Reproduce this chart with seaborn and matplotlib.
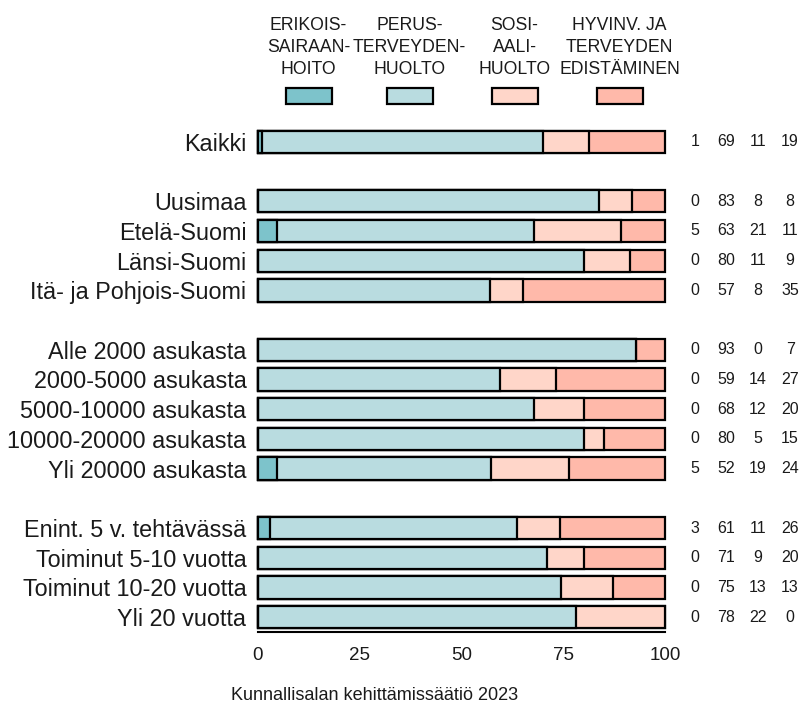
import matplotlib
matplotlib.use("Agg")
import matplotlib.pyplot as plt
from matplotlib.patches import Rectangle
import seaborn as sns
import pandas as pd
import numpy as np

# ---- data ----
categories = ["Kaikki", "Uusimaa", "Etelä-Suomi", "Länsi-Suomi", "Itä- ja Pohjois-Suomi",
              "Alle 2000 asukasta", "2000-5000 asukasta", "5000-10000 asukasta",
              "10000-20000 asukasta", "Yli 20000 asukasta",
              "Enint. 5 v. tehtävässä", "Toiminut 5-10 vuotta", "Toiminut 10-20 vuotta",
              "Yli 20 vuotta"]
# groups separated by blank rows
groups = [1, 4, 5, 4]

erikois = [1.1, 0.0, 4.7, 0.0, 0.0, 0.0, 0.0, 0.0, 0.0, 4.7, 3.1, 0.0, 0.0, 0.0]
perus   = [68.9, 83.9, 63.2, 80.2, 57.1, 93.0, 59.4, 67.9, 80.2, 52.5, 60.5, 71.0, 74.4, 78.1]
sosi    = [11.3, 8.0, 21.4, 11.2, 8.1, 0.0, 13.9, 12.3, 4.8, 19.3, 10.6, 9.2, 12.8, 21.9]
hyvinv  = [18.7, 8.1, 10.7, 8.6, 34.8, 7.0, 26.7, 19.8, 15.0, 23.5, 25.8, 19.8, 12.8, 0.0]

lab_erikois = [1, 0, 5, 0, 0, 0, 0, 0, 0, 5, 3, 0, 0, 0]
lab_perus   = [69, 83, 63, 80, 57, 93, 59, 68, 80, 52, 61, 71, 75, 78]
lab_sosi    = [11, 8, 21, 11, 8, 0, 14, 12, 5, 19, 11, 9, 13, 22]
lab_hyvinv  = [19, 8, 11, 9, 35, 7, 27, 20, 15, 24, 26, 20, 13, 0]

series_names = ["ERIKOIS-\nSAIRAAN-\nHOITO", "PERUS-\nTERVEYDEN-\nHUOLTO",
                "SOSI-\nAALI-\nHUOLTO", "HYVINV. JA\nTERVEYDEN\nEDISTÄMINEN"]
colors = ["#7DC3CB", "#B9DCE0", "#FFD6C9", "#FFB9AA"]
xticks = [0, 25, 50, 75, 100]
caption = "Kunnallisalan kehittämissäätiö 2023"

# ---- style ----
sns.set_style("white")
plt.rcParams["font.family"] = ["Liberation Sans", "DejaVu Sans"]
TXT = "#1a1a1a"

W, H = 808, 704
fig = plt.figure(figsize=(W / 100, H / 100), dpi=100)
ax_left, ax_right, ax_top, ax_bot = 257.5, 665.0, 127.0, 632.0
ax = fig.add_axes([ax_left / W, (H - ax_bot) / H, (ax_right - ax_left) / W, (ax_bot - ax_top) / H])

# order with blank spacer slots
order = []
idx = 0
for gi, g in enumerate(groups):
    if gi > 0:
        order.append(" " * gi)
    order.extend(categories[idx:idx + g])
    idx += g

df = pd.DataFrame({"cat": categories, "e": erikois, "p": perus, "s": sosi, "h": hyvinv})
cum = [df[["e", "p", "s", "h"]].sum(axis=1),
       df[["e", "p", "s"]].sum(axis=1),
       df[["e", "p"]].sum(axis=1),
       df["e"]]
draw_colors = [colors[3], colors[2], colors[1], colors[0]]
for vals, col in zip(cum, draw_colors):
    sns.barplot(x=vals, y=df["cat"], order=order, color=col, orient="h",
                width=0.75, edgecolor="black", linewidth=1.6, saturation=1,
                ax=ax)

for p in ax.patches:
    p.set_clip_on(False)

ax.set_xlim(0, 100)
ax.set_ylim(len(order) - 0.5, -0.5)
ax.set_xlabel("")
ax.set_ylabel("")
ax.set_xticks(xticks)
ax.set_xticklabels([str(t) for t in xticks], fontsize=13.5, color=TXT)
ax.tick_params(axis="x", length=8, width=1.5, direction="out", pad=3, color="black")
ax.tick_params(axis="y", length=0, pad=8, labelsize=16.8, labelcolor=TXT)
for s in ["top", "right", "left"]:
    ax.spines[s].set_visible(False)
ax.spines["bottom"].set_bounds(0, 100)
ax.spines["bottom"].set_linewidth(1.5)
ax.spines["bottom"].set_color("black")

# right-hand value columns
col_x = [107.4, 115.0, 122.8, 130.7]
pos = {c: order.index(c) for c in categories}
for i, c in enumerate(categories):
    for x, v in zip(col_x, [lab_erikois[i], lab_perus[i], lab_sosi[i], lab_hyvinv[i]]):
        ax.text(x, pos[c], str(v), ha="center", va="center", fontsize=11.5,
                color=TXT, clip_on=False)

# legend: labels above boxes
leg_cx = [308.5, 409.5, 514.5, 619.5]
line_y = [26, 47.5, 69.5]
for cx, name, col in zip(leg_cx, series_names, colors):
    for ly, line in zip(line_y, name.split("\n")):
        fig.text(cx / W, 1 - ly / H, line, ha="center", va="center", fontsize=12.7,
                 color=TXT)
    fig.add_artist(Rectangle(((cx - 23) / W, 1 - 104 / H), 46 / W, 16 / H,
                             transform=fig.transFigure, facecolor=col,
                             edgecolor="black", linewidth=1.6))

fig.text(375 / W, 1 - 695 / H, caption, ha="center", va="center", fontsize=13,
         color=TXT)

fig.savefig("out.png", dpi=100)
